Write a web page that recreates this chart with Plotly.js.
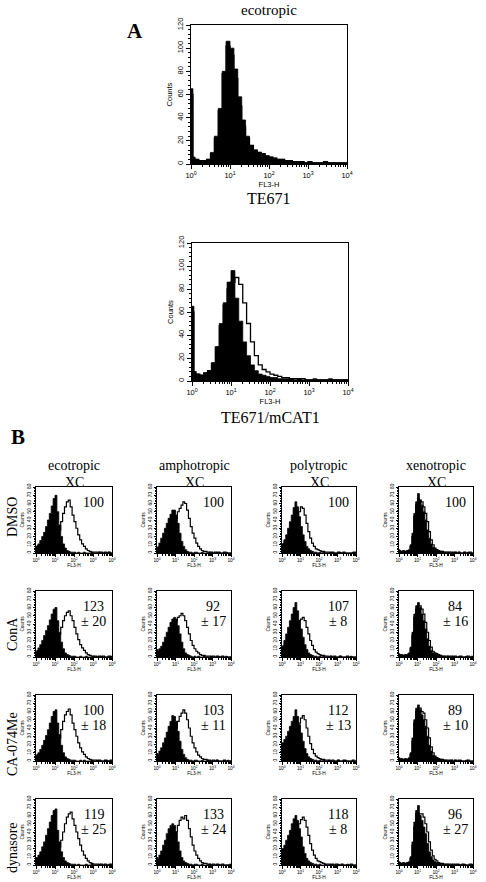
<!DOCTYPE html>
<html><head><meta charset="utf-8">
<script src="https://cdn.plot.ly/plotly-3.0.1.min.js"></script>
<style>html,body{margin:0;padding:0;background:#fff}#chart{width:486px;height:882px}</style>
</head><body><div id="chart"></div><script>
// FL3-H channel bin edges (log scale, 0.1-decade bins, first bin narrow)
const channels = [1,1.12,
  1.26,1.58,2,2.51,3.16,3.98,5.01,6.31,7.94,10,
  12.6,15.8,20,25.1,31.6,39.8,50.1,63.1,79.4,100,
  126,158,200,251,316,398,501,631,794,1000,
  1259,1585,1995,2512,3162,3981,5012,6310,7943,10000];
const xTickVals = [1,10,100,1000,10000];
const xTickText = ['10<sup>0</sup>','10<sup>1</sup>','10<sup>2</sup>','10<sup>3</sup>','10<sup>4</sup>'];

// Panel A: TE671 (ecotropic)
const te671Filled = [65,6, 4,3,3,4,10,24,48,80,106,100, 82,58,38,24,16,12,10,9,7,6, 5,4,4,3,3,2,2,2,1,2, 1,1,1,2,1,1,1,1,1,1];
const te671Open   = [60,5, 4,3,3,4,9,22,46,78,102,94, 74,50,32,22,16,12,10,9,7,6, 5,4,4,3,3,2,2,2,1,2, 1,1,1,2,1,1,1,1,1,1];
// Panel A: TE671/mCAT1
const mcatFilled  = [65,8, 6,5,7,9,16,30,50,68,86,96, 72,52,34,22,14,9,6,5,4,3, 3,2,2,2,2,1,2,1,1,1, 2,1,1,1,2,1,1,1,1,1];
const mcatOpen    = [60,8, 6,5,7,9,15,29,48,66,80,86, 90,84,68,50,34,22,14,10,8,6, 5,4,3,3,2,2,2,2,1,1, 1,1,1,1,1,1,1,1,1,1];

// Panel B (rows: DMSO, ConA, CA-074Me, dynasore; cols: eco, ampho, poly, xeno)
const dmsoEcoFilled   = [8,9, 11,15,20,25,32,40,48,57,66,70, 50,34,20,11,6,3,2,1,1,1, 0,1,0,0,1,0,0,0,1,0, 0,0,1,0,0,0,0,1,0,0];
const dmsoEcoOpen     = [1,1, 2,2,3,3,4,5,6,8,10,14, 20,28,38,48,56,62,64,56,46,38, 30,22,16,11,8,5,3,2,1,1, 1,1,1,1,0,1,0,1,0,0];
const dmsoAmphoFilled = [7,8, 12,18,24,30,36,42,47,52,52,46, 36,24,14,8,4,2,1,1,0,1, 1,0,0,1,0,0,0,1,0,0, 0,1,0,0,0,0,1,0,0,0];
const dmsoAmphoOpen   = [1,1, 2,3,4,5,7,10,14,20,30,42, 50,54,58,62,60,52,42,32,24,18, 12,8,5,3,2,2,1,1,1,0, 1,0,1,0,0,1,0,0,0,0];
const dmsoPolyFilled  = [11,12, 16,22,30,38,46,55,62,56,44,32, 22,14,8,5,3,2,1,1,0,1, 0,1,0,0,0,1,0,0,0,0, 1,0,0,0,0,0,0,1,0,0];
const dmsoPolyOpen    = [2,2, 3,4,6,8,12,18,28,40,50,56, 54,46,36,26,18,12,8,5,4,3, 2,2,1,1,1,0,1,0,0,1, 0,0,1,0,0,0,0,0,1,0];
const dmsoXenoFilled  = [4,3, 2,3,2,3,4,10,24,48,62,72, 64,58,50,40,28,18,11,7,5,4, 3,2,2,1,1,1,1,0,1,1, 0,1,0,0,1,0,1,0,0,0];
const dmsoXenoOpen    = [2,2, 2,2,2,2,3,8,20,44,58,66, 64,62,56,48,38,26,16,10,6,4, 3,2,2,1,1,1,1,1,0,1, 0,1,0,0,1,0,0,1,0,0];

const conaEcoFilled   = [7,8, 11,15,20,26,32,38,45,52,58,60, 44,30,18,10,5,3,2,1,1,1, 0,0,1,0,0,1,0,0,0,1, 0,0,0,1,0,0,0,0,1,0];
const conaEcoOpen     = [1,1, 2,2,3,3,4,5,6,8,11,14, 20,28,36,44,50,54,56,50,44,36, 28,21,15,11,8,5,3,2,1,1, 1,0,1,0,1,0,0,1,0,0];
const conaAmphoFilled = [9,8, 10,13,18,24,30,36,42,46,48,46, 38,28,18,10,5,3,2,1,0,1, 0,1,0,0,1,0,0,0,1,0, 0,0,1,0,0,0,1,0,0,0];
const conaAmphoOpen   = [2,2, 3,4,5,7,10,14,20,28,36,44, 48,50,53,50,44,36,28,20,14,10, 7,5,3,2,2,1,1,1,0,1, 0,1,0,0,1,0,0,0,0,0];
const conaPolyFilled  = [13,14, 20,28,36,44,52,60,66,56,44,34, 24,15,9,5,3,2,1,1,0,1, 0,1,0,0,0,1,0,0,0,0, 1,0,0,0,0,0,1,0,0,0];
const conaPolyOpen    = [3,3, 4,6,8,11,15,20,28,38,44,46, 48,44,36,28,20,14,9,6,4,3, 2,2,1,1,0,1,0,1,0,0, 1,0,0,0,1,0,0,0,0,0];
const conaXenoFilled  = [4,3, 3,2,3,3,5,12,30,52,62,66, 60,52,44,34,22,13,8,5,4,3, 2,1,1,1,0,1,1,0,1,0, 0,1,0,0,0,1,0,0,1,0];
const conaXenoOpen    = [2,2, 2,2,2,2,4,10,26,48,58,62, 62,58,52,42,30,20,12,7,5,4, 3,2,1,1,1,1,0,1,0,1, 0,0,1,0,0,0,1,0,0,0];

const caEcoFilled     = [7,8, 10,14,19,25,31,38,46,54,60,62, 46,32,19,10,5,3,2,1,1,1, 0,0,1,0,1,0,0,0,1,0, 0,1,0,0,0,0,1,0,0,0];
const caEcoOpen       = [1,1, 2,2,3,3,4,5,6,8,10,14, 20,28,38,48,56,60,63,56,46,38, 30,22,16,11,8,5,3,2,1,1, 1,0,1,0,0,1,0,0,1,0];
const caAmphoFilled   = [9,8, 12,16,22,28,35,42,48,55,54,48, 36,24,14,8,4,2,1,1,0,1, 1,0,0,1,0,0,1,0,0,0, 0,1,0,0,0,0,0,1,0,0];
const caAmphoOpen     = [2,2, 3,4,5,6,8,11,15,20,28,40, 48,54,58,62,58,50,40,30,22,16, 11,7,5,3,2,2,1,1,0,1, 0,1,0,0,0,1,0,0,0,0];
const caPolyFilled    = [22,22, 26,30,36,42,48,54,62,54,44,34, 24,15,9,5,3,2,1,1,0,1, 0,1,0,0,1,0,0,0,0,1, 0,0,0,1,0,0,0,0,0,0];
const caPolyOpen      = [4,4, 5,6,8,10,14,18,24,34,46,52, 55,50,40,30,21,14,9,6,4,3, 2,2,1,1,1,0,1,0,0,1, 0,0,1,0,0,0,0,1,0,0];
const caXenoFilled    = [4,3, 3,2,3,2,4,10,28,50,64,68, 62,56,50,42,30,19,12,7,5,4, 3,2,1,1,1,0,1,1,0,1, 0,0,1,0,0,1,0,0,0,0];
const caXenoOpen      = [2,2, 2,2,2,2,3,8,24,46,60,64, 64,60,58,50,40,28,17,10,6,4, 3,2,2,1,1,1,0,1,0,1, 0,1,0,0,0,0,1,0,0,0];

const dynEcoFilled    = [9,9, 12,16,22,28,36,44,52,60,66,68, 42,28,16,9,5,3,2,1,1,1, 0,1,0,0,0,1,0,0,1,0, 0,0,1,0,0,0,0,1,0,0];
const dynEcoOpen      = [1,1, 2,2,2,3,3,4,5,7,9,12, 16,22,30,40,50,58,62,64,56,48, 40,32,24,17,12,8,5,3,2,1, 1,1,0,1,0,1,0,0,1,0];
const dynAmphoFilled  = [9,8, 12,17,24,30,38,44,48,50,48,40, 28,17,9,5,3,2,1,1,0,1, 1,0,0,1,0,0,0,1,0,0, 0,0,1,0,0,0,0,0,1,0];
const dynAmphoOpen    = [2,2, 3,4,5,6,8,11,16,22,30,40, 48,54,58,56,60,54,44,34,24,17, 12,8,5,3,2,2,1,1,0,1, 0,1,0,0,1,0,0,0,0,0];
const dynPolyFilled   = [20,20, 24,30,36,42,50,56,60,54,44,34, 22,14,8,5,3,2,1,1,0,1, 0,0,1,0,0,1,0,0,0,1, 0,0,0,0,1,0,0,0,0,0];
const dynPolyOpen     = [4,4, 5,6,8,10,14,18,26,38,50,55, 58,54,46,36,26,18,12,8,5,4, 3,2,1,1,1,0,1,0,1,0, 0,1,0,0,0,0,1,0,0,0];
const dynXenoFilled   = [4,3, 2,3,2,3,4,10,28,52,66,72, 60,54,46,38,26,16,10,6,4,3, 2,2,1,1,1,1,0,1,0,1, 0,1,0,0,1,0,0,0,1,0];
const dynXenoOpen     = [2,2, 2,2,2,2,3,8,24,46,62,60, 62,62,58,50,40,28,18,11,7,5, 3,2,2,1,1,1,1,0,1,0, 1,0,0,1,0,0,0,1,0,0];

const colHeaders = ['ecotropic','amphotropic','polytropic','xenotropic'];
const rowLabels  = ['DMSO','ConA','CA-074Me','dynasore'];
const statMain = ['100','100','100','100','123','92','107','84','100','103','112','89','119','133','118','96'];
const statErr  = ['','','','','± 20','± 17','± 8','± 16','± 18','± 11','± 13','± 10','± 25','± 24','± 8','± 27'];
const gridFilled = [dmsoEcoFilled,dmsoAmphoFilled,dmsoPolyFilled,dmsoXenoFilled,
  conaEcoFilled,conaAmphoFilled,conaPolyFilled,conaXenoFilled,
  caEcoFilled,caAmphoFilled,caPolyFilled,caXenoFilled,
  dynEcoFilled,dynAmphoFilled,dynPolyFilled,dynXenoFilled];
const gridOpen = [dmsoEcoOpen,dmsoAmphoOpen,dmsoPolyOpen,dmsoXenoOpen,
  conaEcoOpen,conaAmphoOpen,conaPolyOpen,conaXenoOpen,
  caEcoOpen,caAmphoOpen,caPolyOpen,caXenoOpen,
  dynEcoOpen,dynAmphoOpen,dynPolyOpen,dynXenoOpen];

// ---------- layout ----------
const W = 486, H = 882;
const px = v => v / W, py = v => 1 - v / H;
const SERIF = 'Liberation Serif, Times New Roman, serif';
const SANS = 'Liberation Sans, Arial, sans-serif';
const traces = [];
const layout = {width:W, height:H, margin:{l:0,r:0,t:0,b:0}, showlegend:false,
  paper_bgcolor:'#fff', plot_bgcolor:'#fff', annotations:[]};
let n = 0;
function addPanel(x0, x1, y0, y1, filled, open, big){
  n++;
  const xa = n===1 ? 'x' : 'x'+n, ya = n===1 ? 'y' : 'y'+n;
  const xk = n===1 ? 'xaxis' : 'xaxis'+n, yk = n===1 ? 'yaxis' : 'yaxis'+n;
  traces.push({x:channels, y:filled, xaxis:xa, yaxis:ya, type:'scatter', mode:'lines',
    line:{shape:'hv', color:'#000', width:0.8}, fill:'tozeroy', fillcolor:'#000', hoverinfo:'skip'});
  traces.push({x:channels, y:open, xaxis:xa, yaxis:ya, type:'scatter', mode:'lines',
    line:{shape:'hv', color:'#000', width: big ? 1.3 : 1.2}, hoverinfo:'skip'});
  const tf = {family:SANS, size: big ? 7.5 : 4.8, color:'#000'};
  layout[xk] = {domain:[px(x0), px(x1)], anchor:ya, type:'log', range:[0,4],
    tickmode:'array', tickvals:xTickVals, ticktext:xTickText,
    ticks:'outside', ticklen: big ? 4 : 2.5, tickwidth:1, tickcolor:'#000',
    minor:{ticks:'outside', ticklen: big ? 2 : 1.5, dtick:'D1', tickcolor:'#000', showgrid:false},
    showline:true, linecolor:'#000', linewidth:1, mirror:true, showgrid:false, zeroline:false,
    tickfont:tf, automargin:false, fixedrange:true,
    title:{text:'FL3-H', font:tf, standoff: big ? 1 : 0}};
  layout[yk] = {domain:[py(y1), py(y0)], anchor:xa, range: big ? [0,120] : [0,80],
    dtick: big ? 20 : 10, ticks:'outside', ticklen: big ? 4 : 2.5, tickwidth:1, tickcolor:'#000',
    minor:{ticks:'outside', ticklen: big ? 2 : 1.5, dtick: big ? 4 : 2, tickcolor:'#000', showgrid:false},
    tickangle:-90, showline:true, linecolor:'#000', linewidth:1, mirror:true, showgrid:false, zeroline:false,
    tickfont:tf, automargin:false, fixedrange:true,
    title:{text:'Counts', font:tf, standoff: big ? 2 : 1}};
}
function ann(text, x, y, size, opts){
  layout.annotations.push(Object.assign({text:text, x:px(x), y:py(y), xref:'paper', yref:'paper',
    showarrow:false, xanchor:'center', yanchor:'middle', font:{family:SERIF, size:size, color:'#000'}}, opts||{}));
}

// Panel A
addPanel(191, 347, 25, 164, te671Filled, te671Open, true);
addPanel(192, 348, 243, 381, mcatFilled, mcatOpen, true);
ann('ecotropic', 269, 10, 15);
ann('<b>A</b>', 135, 31, 21);
ann('TE671', 269, 198, 16);
ann('TE671/mCAT1', 270, 417, 16);

// Panel B
const colX = [[36,112],[157,231],[282,356],[399,473]];
const rowY = [[487,553],[591,657],[695,761],[799,865]];
const rowLabelY = [517, 634, 744, 848];
ann('<b>B</b>', 18, 437, 21);
for (let c=0;c<4;c++){
  const cx = (colX[c][0]+colX[c][1])/2;
  ann(colHeaders[c], cx, 465, 14);
  ann('XC', cx, 482, 14);
}
for (let r=0;r<4;r++){
  ann(rowLabels[r], 12, rowLabelY[r], 14, {textangle:-90});
  for (let c=0;c<4;c++){
    const i = r*4+c;
    addPanel(colX[c][0], colX[c][1], rowY[r][0], rowY[r][1], gridFilled[i], gridOpen[i], false);
    const tx = colX[c][0] + 0.76*(colX[c][1]-colX[c][0]);
    if (statErr[i]===''){
      ann(statMain[i], tx, rowY[r][0]+15, 14);
    } else {
      ann(statMain[i], tx, rowY[r][0]+15, 14);
      ann(statErr[i], tx, rowY[r][0]+30, 14);
    }
  }
}
Plotly.newPlot('chart', traces, layout, {staticPlot:true, displayModeBar:false});
</script></body></html>
